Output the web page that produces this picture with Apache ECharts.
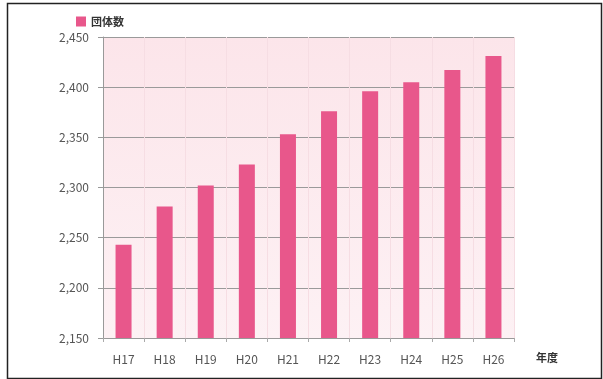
<!DOCTYPE html>
<html>
<head>
<meta charset="utf-8">
<script src="https://cdn.jsdelivr.net/npm/echarts@6/dist/echarts.min.js"></script>
<style>
  html, body { margin: 0; padding: 0; background: #ffffff; }
  #chart { width: 603px; height: 379px; }
</style>
</head>
<body>
<div id="chart"></div>
<script>
// 年度ごとの団体数
const years = ['H17', 'H18', 'H19', 'H20', 'H21', 'H22', 'H23', 'H24', 'H25', 'H26'];
const groupCounts = [2243, 2281, 2302, 2323, 2353, 2376, 2396, 2405, 2417, 2431];
const yTicks = { min: 2150, max: 2450, step: 50 };
const seriesName = '団体数';
const xAxisName = '年度';

const font = '"Noto Sans CJK JP", "Noto Sans", sans-serif';
const chart = echarts.init(document.getElementById('chart'));

chart.setOption({
  animation: false,
  backgroundColor: '#ffffff',
  graphic: [{
    type: 'rect',
    left: 5, top: 1,
    shape: { width: 594, height: 375 },
    style: { fill: 'none', stroke: '#222', lineWidth: 1.5 },
    z: 100
  }],
  legend: {
    data: [{ name: seriesName, icon: 'rect' }],
    left: 71, top: 11,
    itemWidth: 10, itemHeight: 10,
    itemGap: 6,
    textStyle: { fontFamily: font, fontSize: 11, color: '#333', fontWeight: 'bold' }
  },
  grid: {
    left: 103, right: 89, top: 37, bottom: 41,
    show: true,
    borderWidth: 0,
    backgroundColor: new echarts.graphic.LinearGradient(0, 0, 0, 1, [
      { offset: 0, color: '#fce5ea' },
      { offset: 1, color: '#fdf1f4' }
    ])
  },
  xAxis: {
    type: 'category',
    data: years,
    name: xAxisName,
    nameLocation: 'end',
    nameGap: 22,
    nameTextStyle: { fontFamily: font, fontSize: 11, color: '#333', fontWeight: 'bold', verticalAlign: 'top', padding: [14, 0, 0, 0] },
    axisLine: { lineStyle: { color: '#999' } },
    axisTick: { show: true, alignWithLabel: false, length: 4, lineStyle: { color: '#aaa' } },
    axisLabel: { fontFamily: font, fontSize: 12, color: '#555', margin: 15 },
    splitLine: { show: true, lineStyle: { color: '#f6dde3', width: 1 } }
  },
  yAxis: {
    type: 'value',
    min: yTicks.min,
    max: yTicks.max,
    interval: yTicks.step,
    axisLine: { show: true, lineStyle: { color: '#999' } },
    axisTick: { show: true, length: 5, lineStyle: { color: '#999' } },
    axisLabel: {
      fontFamily: font, fontSize: 12, color: '#555', margin: 14,
      formatter: v => v.toLocaleString('en-US')
    },
    splitLine: { lineStyle: { color: '#9a9a9a', width: 1 } }
  },
  series: [{
    name: seriesName,
    type: 'bar',
    data: groupCounts,
    barWidth: 16,
    itemStyle: { color: '#e8578b' }
  }]
});
</script>
</body>
</html>
